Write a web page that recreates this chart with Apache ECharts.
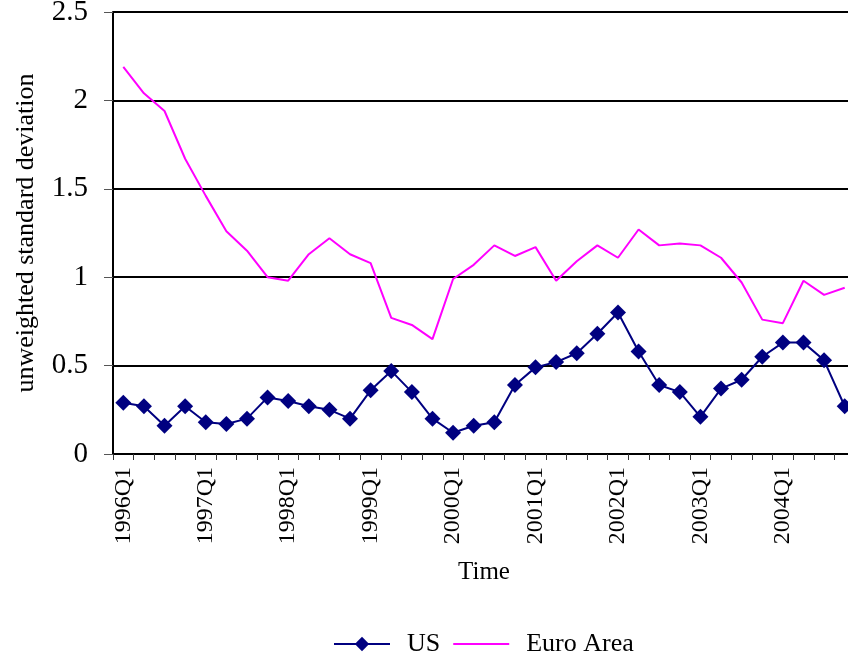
<!DOCTYPE html>
<html>
<head>
<meta charset="utf-8">
<script src="https://cdn.jsdelivr.net/npm/echarts@6/dist/echarts.min.js"></script>
<style>
  html, body { margin: 0; padding: 0; background: #fff; }
  #chart { width: 848px; height: 661px; }
</style>
</head>
<body>
<div id="chart"></div>
<script>
// quarters 1996Q1 .. 2004Q4
var years = ['1996', '1997', '1998', '1999', '2000', '2001', '2002', '2003', '2004'];
var quarters = [];
years.forEach(function(y) {
    for (var q = 1; q <= 4; q++) quarters.push(y + 'Q' + q);
});

var usValues = [
    0.29, 0.27, 0.16, 0.27, 0.18, 0.17, 0.20, 0.32,
    0.30, 0.27, 0.25, 0.20, 0.36, 0.47, 0.35, 0.20,
    0.12, 0.16, 0.18, 0.39, 0.49, 0.52, 0.57, 0.68,
    0.80, 0.58, 0.39, 0.35, 0.21, 0.37, 0.42, 0.55,
    0.63, 0.63, 0.53, 0.27
];
var euroValues = [
    2.19, 2.04, 1.94, 1.67, 1.46, 1.26, 1.15, 1.00,
    0.98, 1.13, 1.22, 1.13, 1.08, 0.77, 0.73, 0.65,
    0.99, 1.07, 1.18, 1.12, 1.17, 0.98, 1.09, 1.18,
    1.11, 1.27, 1.18, 1.19, 1.18, 1.11, 0.97, 0.76,
    0.74, 0.98, 0.90, 0.94
];

var serif = '"Liberation Serif", "DejaVu Serif", serif';

var myChart = echarts.init(document.getElementById('chart'));
var option = {
    animation: false,
    grid: {
        left: 113,
        top: 12,
        width: 742,
        bottom: 207,
        outerBoundsMode: 'none'
    },
    legend: {
        top: 626,
        left: 328,
        itemWidth: 56,
        itemHeight: 18,
        itemGap: 12,
        textStyle: { fontFamily: serif, fontSize: 26, color: '#000', padding: [0, 0, 0, 12] },
        data: [
            { name: 'US' },
            { name: 'Euro Area', itemStyle: { opacity: 0 } }
        ]
    },
    xAxis: {
        type: 'category',
        data: quarters,
        boundaryGap: true,
        name: 'Time',
        nameLocation: 'middle',
        nameGap: 106,
        nameTextStyle: { fontFamily: serif, fontSize: 25, color: '#000' },
        axisLine: { lineStyle: { color: '#000', width: 2 } },
        axisTick: { show: true, interval: 0, length: 6, lineStyle: { color: '#333', width: 1 } },
        axisLabel: {
            interval: 3,
            rotate: 90,
            margin: 13,
            fontFamily: serif,
            fontSize: 24,
            color: '#000'
        },
        splitLine: { show: false }
    },
    yAxis: {
        type: 'value',
        min: 0,
        max: 2.5,
        interval: 0.5,
        name: 'unweighted standard deviation',
        nameLocation: 'middle',
        nameGap: 74,
        nameTextStyle: { fontFamily: serif, fontSize: 26, color: '#000' },
        axisLine: { show: true, lineStyle: { color: '#000', width: 2 } },
        axisTick: { show: true, length: 9, lineStyle: { color: '#555', width: 1 } },
        axisLabel: {
            margin: 25,
            fontFamily: serif,
            fontSize: 29,
            color: '#000'
        },
        splitLine: { show: true, lineStyle: { color: '#000', width: 2 } }
    },
    series: [
        {
            name: 'US',
            type: 'line',
            data: usValues,
            symbol: 'diamond',
            symbolSize: 16,
            showAllSymbol: true,
            color: '#000080',
            lineStyle: { color: '#000080', width: 2 },
            itemStyle: { color: '#000080' },
            z: 3
        },
        {
            name: 'Euro Area',
            type: 'line',
            data: euroValues,
            symbol: 'none',
            color: '#ff00ff',
            lineStyle: { color: '#ff00ff', width: 2 },
            itemStyle: { color: '#ff00ff' },
            z: 2
        }
    ]
};
myChart.setOption(option);
window.addEventListener('resize', function() {
    myChart.resize();
});
</script>
</body>
</html>
